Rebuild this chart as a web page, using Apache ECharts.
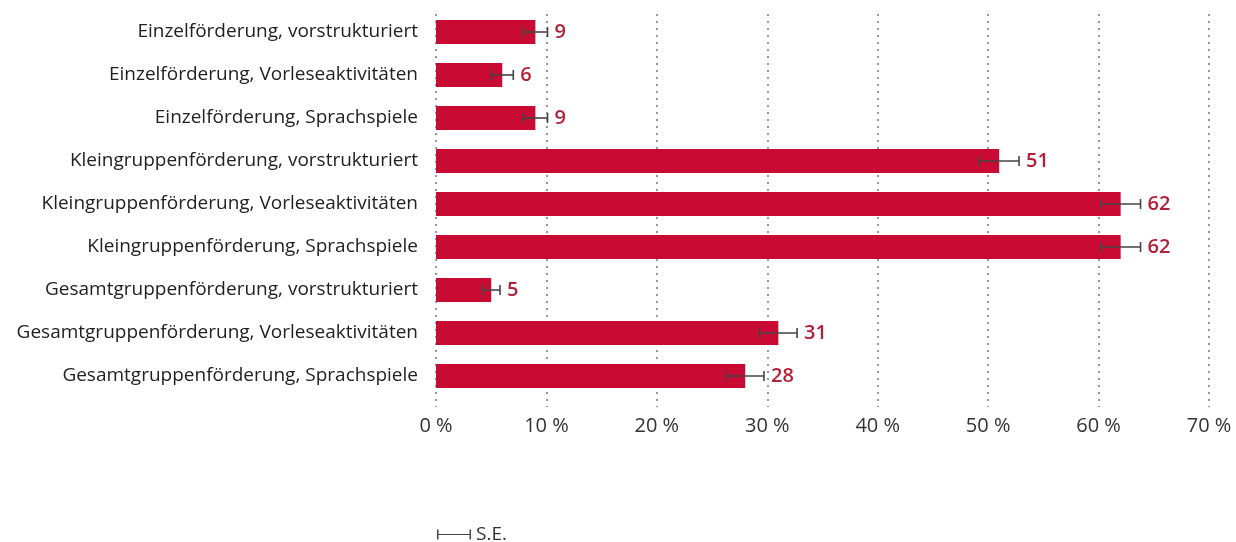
<!DOCTYPE html>
<html style="height: 100%">
<head>
<meta charset="utf-8">
<script src="https://cdn.jsdelivr.net/npm/echarts@6/dist/echarts.min.js"></script>
</head>
<body style="height: 100%; margin: 0; background: #fff">
<div id="container" style="width: 1236px; height: 542px"></div>
<script type="text/javascript">
// Daten
var categories = [
	'Einzelförderung, vorstrukturiert',
	'Einzelförderung, Vorleseaktivitäten',
	'Einzelförderung, Sprachspiele',
	'Kleingruppenförderung, vorstrukturiert',
	'Kleingruppenförderung, Vorleseaktivitäten',
	'Kleingruppenförderung, Sprachspiele',
	'Gesamtgruppenförderung, vorstrukturiert',
	'Gesamtgruppenförderung, Vorleseaktivitäten',
	'Gesamtgruppenförderung, Sprachspiele'
];
var values = [9, 6, 9, 51, 62, 62, 5, 31, 28];
var seValues = [1.1, 1.0, 1.1, 1.8, 1.8, 1.8, 0.8, 1.7, 1.7];
var xTicks = [0, 10, 20, 30, 40, 50, 60, 70];

var font = '"Open Sans", sans-serif';

var errData = [];
for (var i = 0; i < values.length; i++) {
	errData.push([values[i] - seValues[i], values[i] + seValues[i], i, values[i]]);
}

var myChart = echarts.init(document.getElementById('container'));

var option = {
	animation: false,
	grid: [
		{left: 436, right: 27, top: 10.5, height: 387},
		{left: 436, right: 27, top: 14, height: 393}
	],
	legend: {
		left: 432,
		top: 520,
		itemWidth: 34,
		itemHeight: 10,
		itemGap: 8,
		textStyle: {fontFamily: font, fontSize: 19, color: '#333'},
		data: [{name: 'S.E.', icon: 'path://M0,0h1.5v10h-1.5z M0,4.4h34v1.2h-34z M32.5,0h1.5v10h-1.5z', itemStyle: {color: '#444'}}]
	},
	xAxis: [
		{
			gridIndex: 0, type: 'value', min: xTicks[0], max: xTicks[xTicks.length - 1], interval: 10,
			axisLine: {show: false}, axisTick: {show: false}, axisLabel: {show: false}, splitLine: {show: false}
		},
		{
			gridIndex: 1, type: 'value', min: xTicks[0], max: xTicks[xTicks.length - 1], interval: 10,
			axisLine: {show: false}, axisTick: {show: false},
			axisLabel: {
				margin: 9, fontFamily: font, fontSize: 20, color: '#333',
				formatter: function (v) { return v + ' %'; }
			},
			splitLine: {show: true, lineStyle: {type: [2, 5], color: '#777', width: 1.5}}
		}
	],
	yAxis: [
		{
			gridIndex: 0, type: 'category', data: categories, inverse: true,
			axisLine: {show: false}, axisTick: {show: false},
			axisLabel: {margin: 18, fontFamily: font, fontSize: 19, color: '#222'}
		},
		{
			gridIndex: 1, type: 'category', data: categories, show: false
		}
	],
	series: [
		{
			type: 'bar',
			xAxisIndex: 0, yAxisIndex: 0,
			data: values,
			barWidth: 24,
			z: 2,
			itemStyle: {color: '#c90a32'}
		},
		{
			name: 'S.E.',
			type: 'custom',
			xAxisIndex: 0, yAxisIndex: 0,
			encode: {x: [0, 1], y: 2},
			z: 5,
			itemStyle: {color: '#444'},
			data: errData,
			renderItem: function (params, api) {
				var idx = api.value(2);
				var lo = api.coord([api.value(0), idx]);
				var hi = api.coord([api.value(1), idx]);
				var y = lo[1];
				var h = 5;
				var st = {stroke: '#444', lineWidth: 1.6};
				return {
					type: 'group',
					children: [
						{type: 'line', shape: {x1: lo[0], y1: y, x2: hi[0], y2: y}, style: st},
						{type: 'line', shape: {x1: lo[0], y1: y - h, x2: lo[0], y2: y + h}, style: st},
						{type: 'line', shape: {x1: hi[0], y1: y - h, x2: hi[0], y2: y + h}, style: st},
						{
							type: 'text', x: hi[0] + 7, y: y,
							style: {
								text: String(api.value(3)), fill: '#b51f3a',
								font: '600 20px ' + font, textVerticalAlign: 'middle', textAlign: 'left'
							}
						}
					]
				};
			}
		}
	]
};
myChart.setOption(option);
</script>
</body>
</html>
